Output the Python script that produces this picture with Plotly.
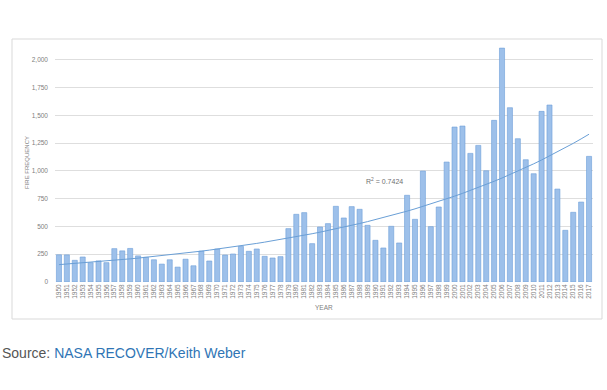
import numpy as np
import plotly.graph_objects as go

years = list(range(1950, 2018))
fires = [245, 244, 195, 225, 174, 190, 174, 300, 280, 302,
         235, 222, 200, 161, 200, 134, 205, 146, 278, 189,
         297, 243, 252, 321, 276, 297, 231, 216, 228, 480,
         609, 624, 345, 495, 525, 681, 576, 678, 654, 510,
         375, 306, 501, 351, 780, 564, 998, 498, 675, 1079,
         1394, 1403, 1157, 1229, 1001, 1454, 2104, 1568, 1289, 1100,
         974, 1535, 1592, 836, 465, 627, 719, 1130]
y_ticks = [0, 250, 500, 750, 1000, 1250, 1500, 1750, 2000]
r2_label = "R<sup>2</sup> = 0.7424"

# exponential trendline (least squares on log values, like Excel)
x = np.array(years, dtype=float)
k, b = np.polyfit(x - 1950, np.log(fires), 1)
trend = np.exp(b + k * (x - 1950))

W, H = 607, 390
L, R, T, B = 55, 14, 43, 108
pw, ph = W - L - R, H - T - B

def px(xp):
    return (xp - L) / pw

def py(yp):
    return (H - B - yp) / ph

fig = go.Figure()
fig.add_trace(go.Bar(x=years, y=fires,
                     marker=dict(color='#9dc0ea', line=dict(color='#6c9ed9', width=0.6)),
                     showlegend=False))
fig.add_trace(go.Scatter(x=years, y=trend, mode='lines',
                         line=dict(color='#6a9fd6', width=1), showlegend=False))

fig.update_layout(
    width=W, height=H,
    margin=dict(l=L, r=R, t=T, b=B),
    paper_bgcolor='white', plot_bgcolor='white',
    bargap=0.36,
    font=dict(family='Liberation Sans, Arial, sans-serif', color='#808080'),
    xaxis=dict(range=[1949.5, 2017.5], tickmode='array', tickvals=years,
               ticktext=[str(y) for y in years], tickangle=-90,
               tickfont=dict(size=6.5, color='#808080'), showgrid=False,
               showline=False, ticks='', zeroline=False),
    yaxis=dict(range=[0, 2150], tickmode='array', tickvals=y_ticks,
               ticktext=[f"{v:,}" for v in y_ticks],
               tickfont=dict(size=6.5, color='#808080'), showgrid=True,
               gridcolor='#dedede', gridwidth=1, zeroline=False, showline=False,
               ticks='', ticklabelstandoff=6),
    shapes=[dict(type='rect', xref='paper', yref='paper',
                 x0=px(12), x1=px(602), y0=py(319), y1=py(39),
                 line=dict(color='#d9d9d9', width=1), fillcolor='rgba(0,0,0,0)',
                 layer='below')],
    annotations=[
        dict(text='FIRE FREQUENCY', x=px(27), y=py(163), xref='paper', yref='paper',
             xanchor='center', yanchor='middle',
             textangle=-90, showarrow=False, font=dict(size=6, color='#808080')),
        dict(text='YEAR', x=px(324), y=py(307), xref='paper', yref='paper',
             xanchor='center', yanchor='middle',
             showarrow=False, font=dict(size=6.5, color='#808080')),
        dict(text=r2_label, x=px(384), y=py(181), xref='paper', yref='paper',
             xanchor='center', yanchor='middle',
             showarrow=False, font=dict(size=7, color='#707070')),
        dict(text="Source: <span style='color:#2f75b5'>NASA RECOVER/Keith Weber</span>",
             x=px(0), y=py(353), xref='paper', yref='paper', xanchor='left',
             yanchor='middle',
             showarrow=False, font=dict(size=14, color='#555555',
                                        family='Liberation Sans, Arial, sans-serif')),
    ],
)

fig.write_html("out.html", config={'displayModeBar': False},
               post_script="document.body.style.margin='0';document.body.style.overflow='hidden';")
